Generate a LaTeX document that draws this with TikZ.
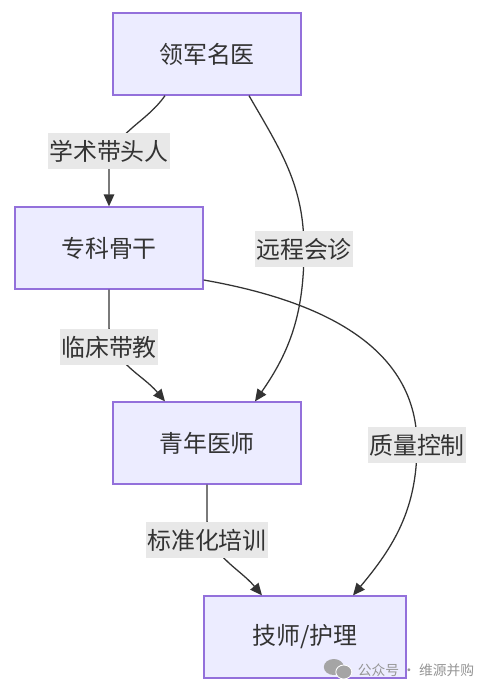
\documentclass[tikz,border=0pt]{standalone}
\usepackage{fontspec}
\setmainfont{Noto Sans CJK SC}
\usetikzlibrary{calc,arrows.meta}

\definecolor{boxfill}{HTML}{ECECFF}
\definecolor{boxline}{HTML}{9370DB}
\definecolor{lblfill}{HTML}{E8E8E8}
\definecolor{ink}{HTML}{333333}
\definecolor{wmark}{HTML}{959595}

\tikzset{
 box/.style={draw=boxline, line width=0.9pt, fill=boxfill, text=ink,
  minimum width=4.7cm, minimum height=2.05cm, font=\fontsize{17}{20}\selectfont},
 lbl/.style={fill=lblfill, text=ink, inner xsep=1pt, inner ysep=0pt,
  minimum height=0.9cm, font=\fontsize{17}{20}\selectfont},
 flow/.style={draw=ink, line width=0.9pt, -{Triangle[length=8.5pt,width=7.5pt]}}
}

\begin{document}
\begin{tikzpicture}[x=0.025cm,y=0.025cm]
 \fill[white] (0,0) rectangle (493,-694);
 \useasboundingbox (0,0) rectangle (493,-694);

 \node[box] (N0) at (207,-54) {领军名医};
 \node[box] (N1) at (109,-248) {专科骨干};
 \node[box] (N2) at (207,-443) {青年医师};
 \node[box, minimum width=5.05cm] (N3) at (305,-637) {技师/护理};

 \draw[flow] ($(N0.south)+(-42,0)$) to[out=-125,in=90] ($(N1.north)+(0,36)$)
   node[lbl] (E0) at (109,-151) {学术带头人} -- (N1);
 \draw[flow] ($(N0.south)+(42,0)$) to[out=-60,in=90] (304,-249)
   node[lbl] (E1) {远程会诊} to[out=-90,in=55] ($(N2.north)+(48,0)$);
 \draw[flow] (N1) -- (109,-325) to[out=-90,in=130] ($(N2.north)+(-42,0)$)
   node[lbl] (E2) at (109,-347) {临床带教};
 \draw[flow] ($(N1.east)+(0,-32)$) to[out=-10,in=90] (417,-445)
   node[lbl] (E3) {质量控制} to[out=-90,in=50] ($(N3.north)+(48,0)$);
 \draw[flow] (N2) -- (207,-518) to[out=-90,in=130] ($(N3.north)+(-43,0)$)
   node[lbl] (E4) at (207,-540) {标准化培训};

 % watermark
 \node[text=wmark, font=\fontsize{9.8}{11}\selectfont] (WM) at (416,-670) {公众号 · 维源并购};
 \fill[wmark!85] ($(WM.west)+(-19,3)$) ellipse (10 and 8);
 \fill[wmark!85, draw=white, line width=0.6pt] ($(WM.west)+(-9,-2)$) ellipse (8 and 7);
\end{tikzpicture}
\end{document}
